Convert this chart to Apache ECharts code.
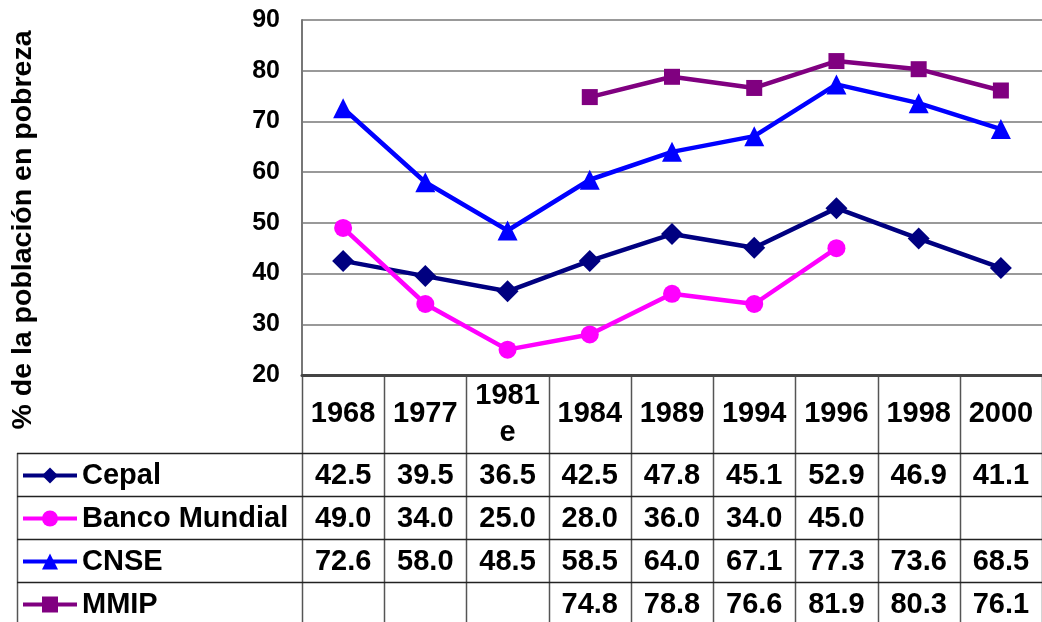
<!DOCTYPE html>
<html><head><meta charset="utf-8">
<script src="https://cdn.jsdelivr.net/npm/echarts@6/dist/echarts.min.js"></script>
<style>html,body{margin:0;padding:0;background:#fff;overflow:hidden}#c{width:1042px;height:622px}</style>
</head><body><div id="c"></div>
<script>
// ---- data ----
const categories = ['1968', '1977', '1981\ne', '1984', '1989', '1994', '1996', '1998', '2000'];
const seriesNames = ['Cepal', 'Banco Mundial', 'CNSE', 'MMIP'];
const cepal = [42.5, 39.5, 36.5, 42.5, 47.8, 45.1, 52.9, 46.9, 41.1];
const bancoMundial = [49.0, 34.0, 25.0, 28.0, 36.0, 34.0, 45.0, null, null];
const cnse = [72.6, 58.0, 48.5, 58.5, 64.0, 67.1, 77.3, 73.6, 68.5];
const mmip = [null, null, null, 74.8, 78.8, 76.6, 81.9, 80.3, 76.1];
const yMin = 20, yMax = 90, yStep = 10;
const yTitle = '% de la población en pobreza';

// ---- styles ----
const FONT = '"Liberation Sans", Arial, sans-serif';
const FS = 29;
const seriesData = [cepal, bancoMundial, cnse, mmip];
const colors = ['#000080', '#FF00FF', '#0000FF', '#800080'];
const symbols = ['diamond', 'circle', 'triangle', 'rect'];
const symbolSizes = [22, 18, 20, 16];

const chart = echarts.init(document.getElementById('c'), null, {renderer: 'canvas'});

const option = {
  animation: false,
  backgroundColor: '#fff',
  grid: {left: 302, right: -6, top: 20, bottom: 247, containLabel: false},
  legend: {
    orient: 'vertical', left: 21, top: 461, itemGap: 14, height: 200,
    itemWidth: 54, itemHeight: 20, padding: 0,
    lineStyle: {width: 4},
    textStyle: {fontFamily: FONT, fontWeight: 'bold', fontSize: FS, color: '#000', lineHeight: 29},
    data: seriesNames
  },
  xAxis: {
    type: 'category', data: categories, boundaryGap: true,
    axisLine: {show: true, lineStyle: {color: '#444', width: 3}},
    axisTick: {show: false},
    axisLabel: {interval: 0, fontFamily: FONT, fontWeight: 'bold', fontSize: FS, color: '#000',
      verticalAlign: 'middle', margin: 39, lineHeight: 37}
  },
  yAxis: {
    type: 'value', min: yMin, max: yMax, interval: yStep,
    axisLine: {show: true, lineStyle: {color: '#777', width: 2}},
    axisTick: {show: false},
    splitLine: {lineStyle: {color: '#777', width: 1.5}},
    axisLabel: {fontFamily: FONT, fontWeight: 'bold', fontSize: 25, color: '#000', margin: 22}
  },
  series: seriesNames.map((n, i) => ({
    name: n, type: 'line', data: seriesData[i],
    symbol: symbols[i], symbolSize: symbolSizes[i], showAllSymbol: true,
    connectNulls: false,
    itemStyle: {color: colors[i]},
    lineStyle: {color: colors[i], width: 4.5}
  }))
};
chart.setOption(option);

// ---- data table below plot ----
const c0 = chart.convertToPixel({xAxisIndex: 0}, 0);
const c1 = chart.convertToPixel({xAxisIndex: 0}, 1);
const band = c1 - c0;
const axisY = chart.convertToPixel({yAxisIndex: 0}, yMin);
const headerBottom = 453, rowH = 43, tableLeft = 17, bottomY = 622;
const gridLeft = c0 - band / 2;
const els = [];
const lineStyle = {stroke: '#555', lineWidth: 1.5};
// vertical lines
for (let k = 0; k <= categories.length; k++) {
  const x = Math.round(gridLeft + k * band) + 0.5;
  els.push({type: 'line', shape: {x1: x, y1: axisY, x2: x, y2: bottomY + 5}, style: lineStyle, silent: true});
}
els.push({type: 'line', shape: {x1: tableLeft + 0.5, y1: headerBottom, x2: tableLeft + 0.5, y2: bottomY + 5}, style: lineStyle, silent: true});
// horizontal lines
for (let r = 0; r < seriesNames.length; r++) {
  const y = headerBottom + r * rowH + 0.5;
  els.push({type: 'line', shape: {x1: tableLeft, y1: y, x2: 1042, y2: y}, style: {stroke: '#222', lineWidth: 1.5}, silent: true});
}
// cell values
seriesData.forEach((arr, r) => {
  arr.forEach((v, k) => {
    if (v == null) return;
    els.push({type: 'text', x: chart.convertToPixel({xAxisIndex: 0}, k), y: headerBottom + r * rowH + rowH / 2 + 1,
      style: {text: v.toFixed(1), fontFamily: FONT, fontWeight: 'bold', fontSize: FS, fill: '#000', align: 'center', verticalAlign: 'middle'}, silent: true});
  });
});
// y-axis title
els.push({type: 'text', x: 23, y: 230, rotation: Math.PI / 2,
  style: {text: yTitle, fontFamily: FONT, fontWeight: 'bold', fontSize: 28.5, fill: '#000', align: 'center', verticalAlign: 'middle'}, silent: true});
chart.setOption({graphic: {elements: els}});
</script>
</body></html>
